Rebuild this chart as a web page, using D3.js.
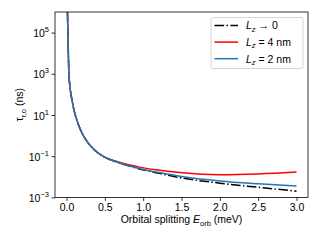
<!DOCTYPE html>
<html><head><meta charset="utf-8">
<script src="https://cdn.jsdelivr.net/npm/d3@7"></script>
<style>body{margin:0;background:#fff}svg{display:block;font-family:"Liberation Sans",Arial,sans-serif}</style>
</head><body>
<svg id="c" width="320" height="240"></svg>
<script>
// Orbital splitting (meV)
const energy = [0.0128, 0.018, 0.024, 0.031, 0.04, 0.056, 0.069, 0.1, 0.134, 0.18, 0.235, 0.304, 0.4, 0.5, 0.565, 0.7, 0.825, 0.95, 1.17, 1.48, 2.0, 2.5, 3.0];
// tau_{r,o} (ns)
const tauLz0 = [1e6, 1e5, 1e4, 1e3, 355, 112, 60, 15.8, 5.8, 2.0, 0.79, 0.347, 0.155, 0.0891, 0.0692, 0.0457, 0.0324, 0.024, 0.0158, 0.0091, 0.0049, 0.0031, 0.002];
const tauLz4 = [1e6, 1e5, 1e4, 1e3, 355, 112, 60, 15.8, 5.8, 2.0, 0.79, 0.347, 0.155, 0.0891, 0.0708, 0.049, 0.0372, 0.0295, 0.0219, 0.0162, 0.0126, 0.0138, 0.017];
const tauLz2 = [1e6, 1e5, 1e4, 1e3, 355, 112, 60, 15.8, 5.8, 2.0, 0.79, 0.347, 0.155, 0.0891, 0.0692, 0.0457, 0.0331, 0.0251, 0.017, 0.0107, 0.0063, 0.00457, 0.00355];
const xTicks = [0.0, 0.5, 1.0, 1.5, 2.0, 2.5, 3.0];
const yTickExps = [-3, -1, 1, 3, 5];
const legendSuffix = ["\u2192 0", "= 4 nm", "= 2 nm"];

const svg = d3.select("#c");
const L = 55, R = 308, T = 12, B = 197.4;
const x = d3.scaleLinear().domain([-0.15, 3.15]).range([L, R]);
const y = d3.scaleLog().domain([1e-3, 1e6]).range([B, T]);

svg.append("defs").append("clipPath").attr("id", "clip")
  .append("rect").attr("x", L).attr("y", T).attr("width", R - L).attr("height", B - T);

const series = [
  {vals: tauLz0, color: "#000000", dash: "9.6,2.4,1.5,2.4"},
  {vals: tauLz4, color: "#ff0000", dash: null},
  {vals: tauLz2, color: "#1f77b4", dash: null}
];
const line = d3.line().x(d => x(d[0])).y(d => y(d[1])).curve(d3.curveMonotoneX);
const g = svg.append("g").attr("clip-path", "url(#clip)");
series.forEach(s => {
  g.append("path").datum(energy.map((e, i) => [e, s.vals[i]]))
    .attr("d", line).attr("fill", "none").attr("stroke", s.color)
    .attr("stroke-width", 1.5).attr("stroke-dasharray", s.dash);
});

// axes
const xAxis = d3.axisBottom(x).tickValues(xTicks).tickFormat(d3.format(".1f")).tickSize(3.5).tickPadding(3);
const gx = svg.append("g").attr("transform", `translate(0,${B})`).call(xAxis);
gx.select(".domain").remove();
gx.selectAll("text").attr("font-size", 10.5).attr("fill", "#000").attr("font-family", "Liberation Sans, Arial, sans-serif");
gx.selectAll("line").attr("stroke", "#000").attr("stroke-width", 0.8);

const yAxis = d3.axisLeft(y).tickValues(yTickExps.map(e => Math.pow(10, e))).tickFormat("").tickSize(3.5);
const gy = svg.append("g").attr("transform", `translate(${L},0)`).call(yAxis);
gy.select(".domain").remove();
gy.selectAll("line").attr("stroke", "#000").attr("stroke-width", 0.8);
yTickExps.forEach(e => {
  const t = svg.append("text").attr("x", 49).attr("y", y(Math.pow(10, e)) + 4.5)
    .attr("text-anchor", "end").attr("font-size", 10.5).attr("fill", "#000");
  t.append("tspan").text("10");
  t.append("tspan").attr("dy", -5).attr("font-size", 7.5).text(e < 0 ? "\u2212" + Math.abs(e) : String(e));
});

// frame
svg.append("rect").attr("x", L).attr("y", T).attr("width", R - L).attr("height", B - T)
  .attr("fill", "none").attr("stroke", "#000").attr("stroke-width", 0.8);

// axis labels
const xl = svg.append("text").attr("x", (x(0) + x(3)) / 2).attr("y", 223).attr("text-anchor", "middle")
  .attr("font-size", 10.5).attr("fill", "#000");
xl.append("tspan").text("Orbital splitting ");
xl.append("tspan").attr("font-style", "italic").text("E");
xl.append("tspan").attr("dy", 2.5).attr("font-size", 7.5).text("orb");
xl.append("tspan").attr("dy", -2.5).text(" (meV)");

const yl = svg.append("text").attr("transform", `translate(23,${(T + B) / 2}) rotate(-90)`)
  .attr("text-anchor", "middle").attr("font-size", 10.5).attr("fill", "#000");
yl.append("tspan").text("\u03c4");
yl.append("tspan").attr("dy", 2.5).attr("font-size", 7.5).text("r,o");
yl.append("tspan").attr("dy", -2.5).text(" (ns)");

// legend
const lg = svg.append("g");
lg.append("rect").attr("x", 211).attr("y", 17.5).attr("width", 92).attr("height", 51).attr("rx", 2)
  .attr("fill", "#fff").attr("fill-opacity", 0.8).attr("stroke", "#cccccc").attr("stroke-width", 0.8);
series.forEach((s, i) => {
  const yy = 25.5 + i * 16.6;
  lg.append("line").attr("x1", 214.5).attr("x2", 238).attr("y1", yy).attr("y2", yy)
    .attr("stroke", s.color).attr("stroke-width", 1.5).attr("stroke-dasharray", s.dash);
  const t = lg.append("text").attr("x", 246).attr("y", yy + 3.8).attr("font-size", 10.5).attr("fill", "#000");
  t.append("tspan").attr("font-style", "italic").text("L");
  t.append("tspan").attr("font-style", "italic").attr("dy", 2.5).attr("font-size", 7.5).text("z");
  t.append("tspan").attr("dy", -2.5).text(" " + legendSuffix[i]);
});
</script>
</body></html>
